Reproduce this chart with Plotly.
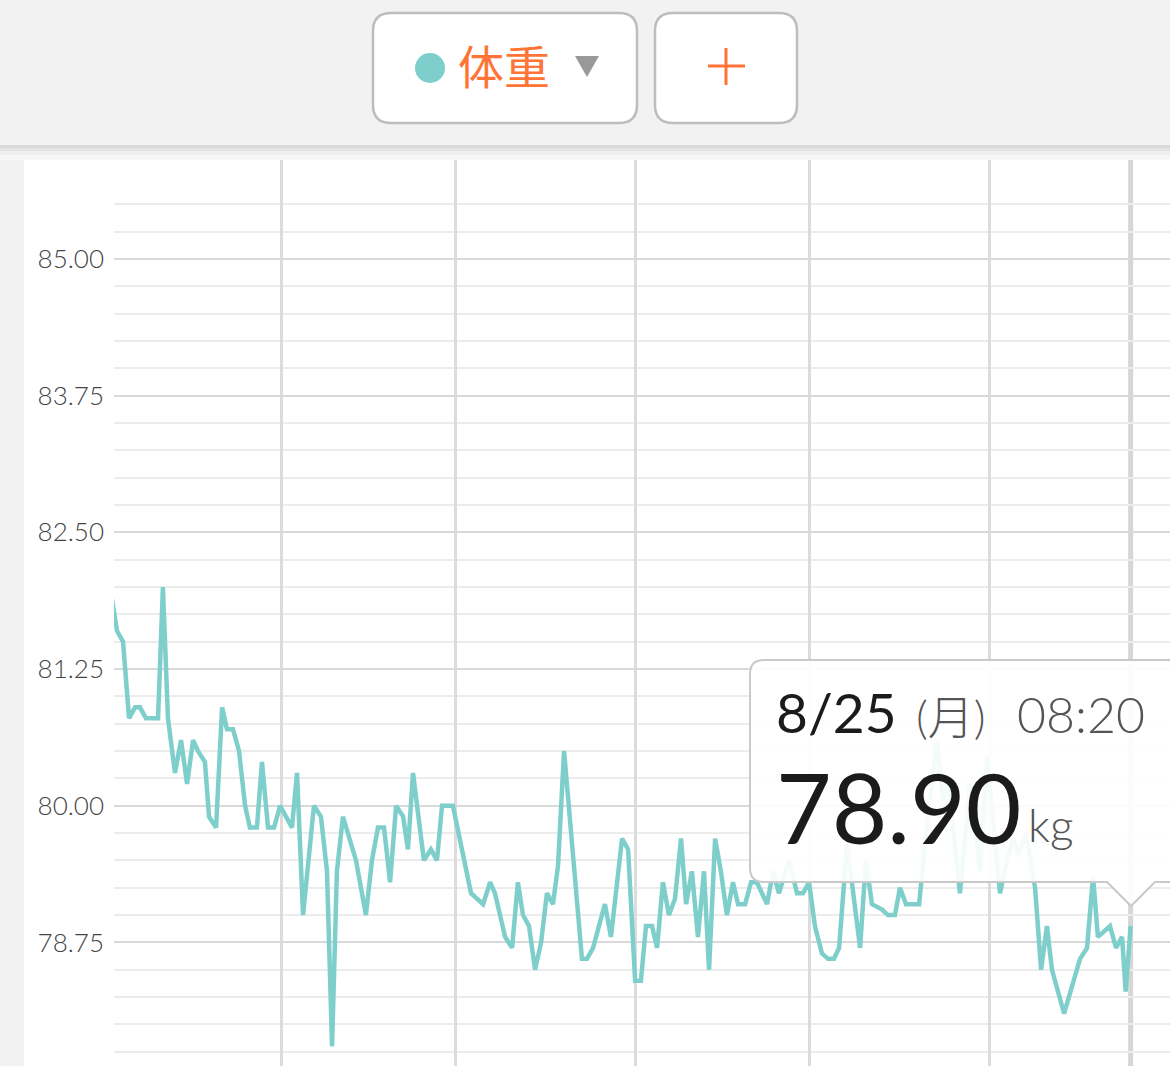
import plotly.graph_objects as go
from datetime import datetime

# ---------------- data ----------------
dates = [
    "2025-03-02 13:00", "2025-03-03 14:00", "2025-03-04 15:00", "2025-03-05 16:00", "2025-03-06 17:00",
    "2025-03-07 13:00", "2025-03-08 14:00", "2025-03-10 16:00", "2025-03-11 12:00", "2025-03-12 09:00",
    "2025-03-13 14:00", "2025-03-14 15:00", "2025-03-15 16:00", "2025-03-16 17:00", "2025-03-17 13:00",
    "2025-03-18 18:00", "2025-03-19 11:00", "2025-03-20 16:00", "2025-03-21 17:00", "2025-03-22 13:00",
    "2025-03-23 14:00", "2025-03-24 15:00", "2025-03-25 16:00", "2025-03-26 12:00", "2025-03-27 17:00",
    "2025-03-28 14:00", "2025-03-29 15:00", "2025-03-30 16:00", "2025-03-31 17:00", "2025-04-02 18:00",
    "2025-04-03 15:00", "2025-04-04 16:00", "2025-04-06 13:00", "2025-04-07 18:00", "2025-04-08 19:00",
    "2025-04-09 16:00", "2025-04-10 12:00", "2025-04-11 13:00", "2025-04-13 19:00", "2025-04-15 12:00",
    "2025-04-16 13:00", "2025-04-17 14:00", "2025-04-18 15:00", "2025-04-19 16:00", "2025-04-20 17:00",
    "2025-04-21 22:00", "2025-04-22 18:00", "2025-04-23 15:00", "2025-04-25 12:00", "2025-04-26 17:00",
    "2025-04-27 18:00", "2025-04-28 15:00", "2025-04-30 12:00", "2025-05-03 15:00", "2025-05-05 17:00",
    "2025-05-06 22:00", "2025-05-07 18:00", "2025-05-09 12:00", "2025-05-10 17:00", "2025-05-11 17:00",
    "2025-05-12 14:00", "2025-05-13 15:00", "2025-05-14 16:00", "2025-05-15 17:00", "2025-05-16 17:00",
    "2025-05-17 18:00", "2025-05-18 15:00", "2025-05-19 16:00", "2025-05-22 18:00", "2025-05-23 15:00",
    "2025-05-24 16:00", "2025-05-26 17:00", "2025-05-27 18:00", "2025-05-29 16:00", "2025-05-30 17:00",
    "2025-05-31 22:00", "2025-06-01 22:00", "2025-06-02 19:00", "2025-06-03 20:00", "2025-06-04 17:00",
    "2025-06-05 17:00", "2025-06-06 18:00", "2025-06-07 19:00", "2025-06-08 20:00", "2025-06-09 17:00",
    "2025-06-10 17:00", "2025-06-11 18:00", "2025-06-12 19:00", "2025-06-13 16:00", "2025-06-14 17:00",
    "2025-06-15 17:00", "2025-06-16 18:00", "2025-06-17 19:00", "2025-06-18 16:00", "2025-06-19 21:00",
    "2025-06-20 22:00", "2025-06-21 22:00", "2025-06-23 16:00", "2025-06-24 17:00", "2025-06-25 17:00",
    "2025-06-27 11:00", "2025-06-28 20:00", "2025-06-29 21:00", "2025-06-30 22:00", "2025-07-01 22:00",
    "2025-07-03 03:00", "2025-07-04 04:00", "2025-07-05 05:00", "2025-07-06 02:00", "2025-07-07 11:00",
    "2025-07-09 17:00", "2025-07-10 17:00", "2025-07-11 18:00", "2025-07-13 12:00", "2025-07-14 12:00",
    "2025-07-15 17:00", "2025-07-16 14:00", "2025-07-17 15:00", "2025-07-19 21:00", "2025-07-20 22:00",
    "2025-07-22 23:00", "2025-07-24 00:00", "2025-07-24 21:00", "2025-07-26 22:00", "2025-07-28 16:00",
    "2025-07-30 09:00", "2025-07-31 14:00", "2025-08-02 20:00", "2025-08-04 01:00", "2025-08-05 02:00",
    "2025-08-06 02:00", "2025-08-07 07:00", "2025-08-08 21:00", "2025-08-09 22:00", "2025-08-10 22:00",
    "2025-08-11 19:00", "2025-08-13 21:00", "2025-08-16 15:00", "2025-08-17 20:00", "2025-08-18 21:00",
    "2025-08-19 17:00", "2025-08-21 19:00", "2025-08-22 20:00", "2025-08-23 21:00", "2025-08-24 12:00",
    "2025-08-25 08:20",
]

weights = [
    81.95, 81.60, 81.50, 80.80, 80.90, 80.90, 80.80, 80.80, 82.00, 80.80,
    80.30, 80.60, 80.20, 80.60, 80.50, 80.40, 79.90, 79.80, 80.90, 80.70,
    80.70, 80.50, 80.00, 79.80, 79.80, 80.40, 79.80, 79.80, 80.00, 79.80,
    80.30, 79.00, 80.00, 79.90, 79.40, 77.80, 79.40, 79.90, 79.50, 79.00,
    79.50, 79.80, 79.80, 79.30, 80.00, 79.90, 79.60, 80.30, 79.50, 79.60,
    79.50, 80.00, 80.00, 79.20, 79.10, 79.30, 79.20, 78.80, 78.70, 79.30,
    79.00, 78.90, 78.50, 78.75, 79.20, 79.10, 79.45, 80.50, 78.60, 78.60,
    78.70, 79.10, 78.80, 79.70, 79.60, 78.40, 78.40, 78.90, 78.90, 78.70,
    79.30, 79.00, 79.15, 79.70, 79.10, 79.40, 78.80, 79.40, 78.50, 79.70,
    79.40, 79.00, 79.30, 79.10, 79.10, 79.30, 79.30, 79.10, 79.40, 79.20,
    79.50, 79.20, 79.20, 79.30, 78.90, 78.65, 78.60, 78.60, 78.70, 79.65,
    78.70, 79.50, 79.10, 79.05, 79.00, 79.00, 79.25, 79.10, 79.10, 79.65,
    80.60, 80.05, 80.25, 79.20, 80.20, 79.40, 80.45, 79.20, 79.50, 79.70,
    79.55, 79.75, 79.25, 78.50, 78.90, 78.50, 78.10, 78.60, 78.70, 79.35,
    78.80, 78.90, 78.70, 78.80, 78.30, 78.90,
]

y_major = [78.75, 80.00, 81.25, 82.50, 83.75, 85.00]
y_minor = [77.75, 78.00, 78.25, 78.50, 79.00, 79.25, 79.50, 79.75, 80.25, 80.50,
           80.75, 81.00, 81.50, 81.75, 82.00, 82.25, 82.75, 83.00, 83.25, 83.50,
           84.00, 84.25, 84.50, 84.75, 85.25, 85.50]
y_range = [77.62, 85.95]
x_range = ["2025-03-03 01:40", "2025-09-01 03:20"]
weekday_jp = ["月", "火", "水", "木", "金", "土", "日"]
metric_label = "体重"
unit_label = "kg"

# ---------------- styling ----------------
W, H = 1170, 1066
L, T = 114, 155
TEAL = "#7ecfcb"
ORANGE = "#ff7436"
BG = "#f2f2f2"


def fx(p):
    return (p - L) / (W - L)


def fy(p):
    return (H - p) / (H - T)


def path_px(cmds):
    out = []
    for c in cmds:
        if isinstance(c, str):
            out.append(c)
        else:
            out.append(f"{fx(c[0]):.5f},{fy(c[1]):.5f}")
    return " ".join(out)


def rrect(x0, y0, x1, y1, r):
    return path_px([
        "M", (x0 + r, y0), "L", (x1 - r, y0), "Q", (x1, y0), (x1, y0 + r),
        "L", (x1, y1 - r), "Q", (x1, y1), (x1 - r, y1), "L", (x0 + r, y1),
        "Q", (x0, y1), (x0, y1 - r), "L", (x0, y0 + r), "Q", (x0, y0), (x0 + r, y0), "Z",
    ])


fig = go.Figure()
fig.add_trace(go.Scatter(
    x=dates, y=weights, mode="lines",
    line=dict(color=TEAL, width=4.5), hoverinfo="skip", showlegend=False,
))

shapes = []
# page background strips (top bar, left strip, shadow)
shapes.append(dict(type="rect", xref="paper", yref="paper", x0=fx(-5), x1=fx(W + 5),
                   y0=fy(145), y1=fy(-5), fillcolor=BG, line=dict(width=0), layer="above"))
shapes.append(dict(type="rect", xref="paper", yref="paper", x0=fx(-5), x1=fx(24),
                   y0=fy(H + 5), y1=fy(144), fillcolor=BG, line=dict(width=0), layer="above"))
for (a, b, col) in [(145, 148, "#d9d9d9"), (148, 151, "#e3e3e3"), (151, 155, "#eeeeee"), (155, 160, "#f7f7f7")]:
    shapes.append(dict(type="rect", xref="paper", yref="paper", x0=fx(-5), x1=fx(W + 5),
                       y0=fy(b), y1=fy(a), fillcolor=col, line=dict(width=0), layer="above"))

# buttons
shapes.append(dict(type="path", xref="paper", yref="paper", path=rrect(373, 13, 637, 123, 18),
                   fillcolor="white", line=dict(color="#bdbdbd", width=2.5), layer="above"))
shapes.append(dict(type="path", xref="paper", yref="paper", path=rrect(655, 13, 797, 123, 18),
                   fillcolor="white", line=dict(color="#bdbdbd", width=2.5), layer="above"))
shapes.append(dict(type="circle", xref="paper", yref="paper", x0=fx(415), x1=fx(445),
                   y0=fy(83), y1=fy(53), fillcolor=TEAL, line=dict(width=0), layer="above"))
shapes.append(dict(type="path", xref="paper", yref="paper",
                   path=path_px(["M", (575, 56), "L", (599, 56), "L", (587, 77), "Z"]),
                   fillcolor="#999999", line=dict(width=0), layer="above"))
shapes.append(dict(type="line", xref="paper", yref="paper", x0=fx(708), x1=fx(745),
                   y0=fy(66), y1=fy(66), line=dict(color=ORANGE, width=3), layer="above"))
shapes.append(dict(type="line", xref="paper", yref="paper", x0=fx(726), x1=fx(726),
                   y0=fy(48), y1=fy(85), line=dict(color=ORANGE, width=3), layer="above"))

# hover cursor line at last point
shapes.append(dict(type="line", xref="x", yref="paper", x0=dates[-1], x1=dates[-1],
                   y0=0, y1=1, line=dict(color="#d6d6d6", width=5), layer="below"))

# tooltip box with pointer
tx0, ty0, tx1, ty1, tr = 750, 660, 1190, 882, 14
tip = path_px([
    "M", (tx0 + tr, ty0), "L", (tx1, ty0), "L", (tx1, ty1), "L", (1155, ty1),
    "L", (1131, 906), "L", (1107, ty1), "L", (tx0 + tr, ty1),
    "Q", (tx0, ty1), (tx0, ty1 - tr), "L", (tx0, ty0 + tr), "Q", (tx0, ty0), (tx0 + tr, ty0), "Z",
])
shapes.append(dict(type="path", xref="paper", yref="paper", path=tip,
                   fillcolor="rgba(255,255,255,0.92)", line=dict(color="#c9c9c9", width=2), layer="above"))

# tooltip texts derived from last point
last_dt = datetime.strptime(dates[-1], "%Y-%m-%d %H:%M")
date_txt = f"{last_dt.month}/{last_dt.day}"
wd_txt = f"({weekday_jp[last_dt.weekday()]})"
time_txt = last_dt.strftime("%H:%M")
val_txt = f"{weights[-1]:.2f}"

FONT = "Lato, 'Noto Sans CJK JP', sans-serif"
annotations = [
    dict(text=metric_label, x=fx(504), y=fy(64), xref="paper", yref="paper", showarrow=False,
         xanchor="center", yanchor="middle",
         font=dict(family="'Noto Sans CJK JP'", size=46, color=ORANGE)),
    dict(text=date_txt, x=fx(774), y=fy(712), xref="paper", yref="paper", showarrow=False,
         xanchor="left", yanchor="middle", font=dict(family=FONT, size=55, color="#1b1b1b", weight=400)),
    dict(text=wd_txt, x=fx(914), y=fy(716), xref="paper", yref="paper", showarrow=False,
         xanchor="left", yanchor="middle", font=dict(family=FONT, size=46, color="#555555", weight=300)),
    dict(text=time_txt, x=fx(1015), y=fy(714), xref="paper", yref="paper", showarrow=False,
         xanchor="left", yanchor="middle", font=dict(family=FONT, size=50, color="#555555", weight=300)),
    dict(text=val_txt, x=fx(774), y=fy(806), xref="paper", yref="paper", showarrow=False,
         xanchor="left", yanchor="middle", font=dict(family=FONT, size=96, color="#1b1b1b", weight=400)),
    dict(text=unit_label, x=fx(1026), y=fy(824), xref="paper", yref="paper", showarrow=False,
         xanchor="left", yanchor="middle", font=dict(family=FONT, size=46, color="#555555", weight=300)),
]

fig.update_layout(
    width=W, height=H, autosize=False,
    margin=dict(l=L, r=0, t=T, b=0, pad=0),
    paper_bgcolor="white", plot_bgcolor="white",
    hovermode=False, showlegend=False,
    shapes=shapes, annotations=annotations,
    xaxis=dict(
        type="date", range=x_range, showticklabels=False, ticks="",
        showgrid=True, dtick="M1", tick0="2025-01-01", gridcolor="#dcdcdc", gridwidth=2.5,
        zeroline=False, showline=False, automargin=False, fixedrange=True,
    ),
    yaxis=dict(
        range=y_range, tickmode="array", tickvals=y_major,
        ticktext=[f"{v:.2f}" for v in y_major], ticks="",
        tickfont=dict(family="Lato", size=26, color="#444444", weight=300),
        ticklabelstandoff=9,
        showgrid=True, gridcolor="#d9d9d9", gridwidth=2,
        minor=dict(tickmode="array", tickvals=y_minor, showgrid=True, gridcolor="#ececec", gridwidth=2, ticks=""),
        zeroline=False, showline=False, automargin=False, fixedrange=True,
    ),
)

fig.write_html("out.html", config={"displayModeBar": False},
               post_script="document.body.style.margin='0';")
